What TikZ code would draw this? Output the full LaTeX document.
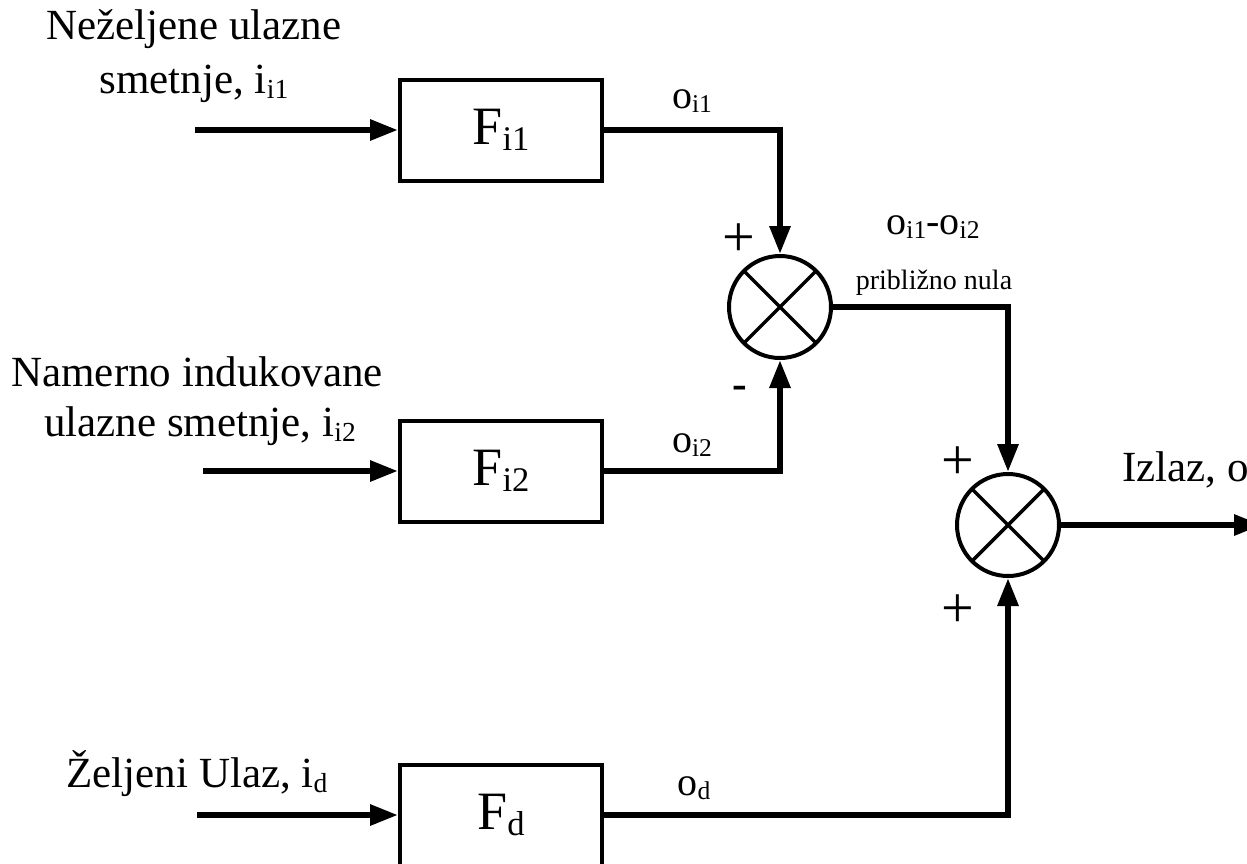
\documentclass[tikz,border=0pt]{standalone}
\usepackage{fontspec}
\usepackage{graphicx}
\setmainfont{Liberation Serif}
\usetikzlibrary{arrows.meta}
\newcommand\dn[1]{\raisebox{-0.11em}{\scalebox{0.64}{#1}}}
\begin{document}
\begin{tikzpicture}[x=1pt,y=-1pt,
  blk/.style={draw,line width=4pt,minimum width=202pt,minimum height=101pt,inner sep=0pt,font=\fontsize{54}{60}\selectfont},
  sum/.style={draw,circle,line width=4pt,minimum size=102pt,inner sep=0pt,
    path picture={\draw[line width=3.5pt] (path picture bounding box.north west) -- (path picture bounding box.south east)
      (path picture bounding box.north east) -- (path picture bounding box.south west);}},
  lbl/.style={font=\fontsize{43}{50}\selectfont,inner sep=0pt},
  sig/.style={font=\fontsize{40}{44}\selectfont,inner sep=0pt},
  small/.style={font=\fontsize{28}{32}\selectfont,inner sep=0pt},
  sgn/.style={font=\fontsize{58}{60}\selectfont,inner sep=0pt},
  wire/.style={line width=6pt,line join=miter},
  arr/.style={wire,-{Triangle[length=28pt,width=20pt]}},
]
\useasboundingbox (0,0) rectangle (1247,863);

% blocks
\node[blk] (f1) at (501,130) {F\dn{i1}};
\node[blk] (f2) at (501,471) {F\dn{i2}};
\node[blk] (fd) at (501,815) {F\dn{d}};

% summing junctions
\node[sum] (s1) at (780,307) {};
\node[sum] (s2) at (1008,525) {};

% input and output coordinates
\coordinate (in1) at (195,130);
\coordinate (in2) at (203,471);
\coordinate (in3) at (197,815);
\coordinate (out) at (1262,525);

% connectors
\draw[arr] (in1) -- (f1);
\draw[arr] (in2) -- (f2);
\draw[arr] (in3) -- (fd);
\draw[arr] (f1.east) -| (s1.north);
\draw[arr] (f2.east) -| (s1.south);
\draw[arr] (s1.east) -| (s2.north);
\draw[arr] (fd.east) -| (s2.south);
\draw[arr] (s2.east) -- (out);

% input labels
\node[lbl] (t1a) at (194,29) {Neželjene ulazne};
\node[lbl] (t1b) at (194,84) {smetnje, i\dn{i1}};
\node[lbl] (t2a) at (197,372) {Namerno indukovane};
\node[lbl] (t2b) at (200,426) {ulazne smetnje, i\dn{i2}};
\node[lbl] (t3) at (197,774) {Željeni Ulaz, i\dn{d}};

% signal labels
\node[sig] (l1) at (692,101) {o\dn{i1}};
\node[sig] (l2) at (692,445) {o\dn{i2}};
\node[sig] (l3) at (694,788) {o\dn{d}};
\node[sig] (l4) at (933,227) {o\dn{i1}-o\dn{i2}};
\node[small] (l5) at (934,283) {približno nula};
\node[lbl,anchor=west] (lo) at (1122,470) {Izlaz, o};

% signs
\node[sgn] (p1) at (739,240) {+};
\node[sig,font=\fontsize{44}{48}\selectfont\bfseries] (m1) at (740,392) {-};
\node[sgn] (p2) at (958,463) {+};
\node[sgn] (p3) at (958,611) {+};
\end{tikzpicture}
\end{document}
